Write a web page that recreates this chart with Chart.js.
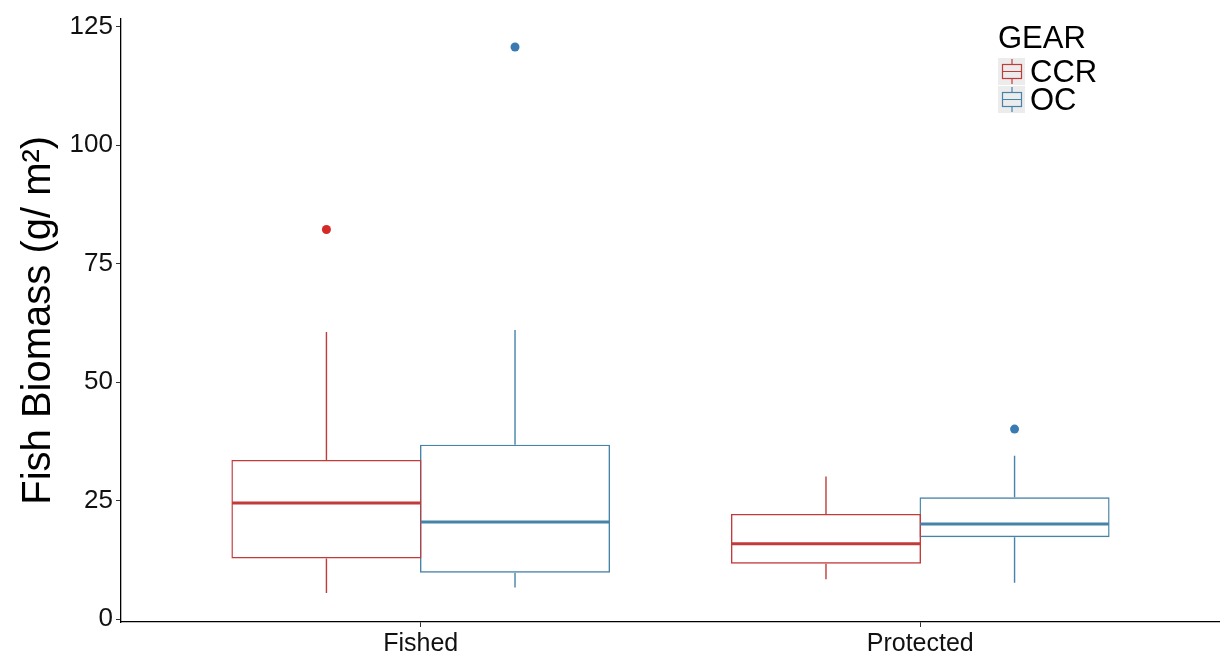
<!DOCTYPE html>
<html>
<head>
<meta charset="utf-8">
<script src="https://cdn.jsdelivr.net/npm/chart.js@4.4.1/dist/chart.umd.min.js"></script>
<style>
  html, body { margin: 0; background: #fff; }
  #wrap { width: 1220px; height: 658px; }
</style>
</head>
<body>
<div id="wrap"><canvas id="grafico"></canvas></div>
<script>
// categorias e posições no eixo x
const categorias = ['Fished', 'Protected'];
const posicoes = [1, 2];
const ticksY = [0, 25, 50, 75, 100, 125];

// CCR
const ccrMin = [5.5, 8.4];
const ccrQ1 = [12.8, 11.7];
const ccrMediana = [24.5, 15.9];
const ccrQ3 = [33.6, 22.2];
const ccrMax = [60.6, 30.1];
const ccrOutliers = [[82.2], []];

// OC
const ocMin = [6.7, 7.7];
const ocQ1 = [9.8, 17.3];
const ocMediana = [20.5, 20.1];
const ocQ3 = [36.8, 25.7];
const ocMax = [61.0, 34.5];
const ocOutliers = [[120.7], [40.1]];

const corCCR = '#c23b3b';
const corOC = '#4583a8';
const fonte = "'Liberation Sans', Arial, sans-serif";

// monta um dataset de caixa (barra flutuante q1..q3)
function caixa(label, cor, q1, q3, min, med, max, outs, ptCor) {
  return {
    label: label,
    data: posicoes.map((x, i) => ({ x: x, y: [q1[i], q3[i]] })),
    backgroundColor: 'rgba(0,0,0,0)',
    borderColor: cor,
    borderWidth: 1.4,
    borderSkipped: false,
    categoryPercentage: 0.755,
    barPercentage: 1.008, // caixas vizinhas dividem a borda
    extra: { min: min, med: med, max: max, outs: outs, ptCor: ptCor }
  };
}

// whiskers, medianas e outliers
const boxPlugin = {
  id: 'boxExtras',
  afterDatasetsDraw(chart) {
    const ctx = chart.ctx;
    const yS = chart.scales.y;
    chart.data.datasets.forEach((ds, d) => {
      const meta = chart.getDatasetMeta(d);
      const e = ds.extra;
      meta.data.forEach((bar, i) => {
        const p = bar.getProps(['x', 'width'], true);
        const x = p.x, w = p.width;
        ctx.save();
        ctx.strokeStyle = ds.borderColor;
        ctx.lineWidth = 1.4;
        ctx.beginPath();
        ctx.moveTo(x, yS.getPixelForValue(ds.data[i].y[1]));
        ctx.lineTo(x, yS.getPixelForValue(e.max[i]));
        ctx.moveTo(x, yS.getPixelForValue(ds.data[i].y[0]));
        ctx.lineTo(x, yS.getPixelForValue(e.min[i]));
        ctx.stroke();
        ctx.lineWidth = 3;
        ctx.beginPath();
        const ym = yS.getPixelForValue(e.med[i]);
        ctx.moveTo(x - w / 2 + 0.7, ym);
        ctx.lineTo(x + w / 2 - 0.7, ym);
        ctx.stroke();
        ctx.fillStyle = e.ptCor;
        e.outs[i].forEach(v => {
          ctx.beginPath();
          ctx.arc(x, yS.getPixelForValue(v), 4.5, 0, Math.PI * 2);
          ctx.fill();
        });
        ctx.restore();
      });
    });
  }
};

// legenda estilo ggplot
const legendaPlugin = {
  id: 'legendaGear',
  afterDraw(chart) {
    const ctx = chart.ctx;
    ctx.save();
    ctx.fillStyle = '#000';
    ctx.font = '31px ' + fonte;
    ctx.textBaseline = 'alphabetic';
    ctx.fillText('GEAR', 998, 48);
    chart.data.datasets.forEach((ds, i) => {
      const top = 58 + i * 28;
      ctx.fillStyle = '#ececec';
      ctx.fillRect(998, top, 27, 27);
      ctx.strokeStyle = ds.borderColor;
      ctx.lineWidth = 1.2;
      ctx.strokeRect(1002.5, top + 6.5, 19, 14);
      ctx.beginPath();
      ctx.moveTo(1002.5, top + 13.5); ctx.lineTo(1021.5, top + 13.5);
      ctx.moveTo(1012, top + 1); ctx.lineTo(1012, top + 6.5);
      ctx.moveTo(1012, top + 20.5); ctx.lineTo(1012, top + 26);
      ctx.stroke();
      ctx.fillStyle = '#000';
      ctx.textBaseline = 'middle';
      ctx.fillText(ds.label, 1030, top + 15);
    });
    ctx.restore();
  }
};

new Chart(document.getElementById('grafico'), {
  type: 'bar',
  data: {
    datasets: [
      caixa('CCR', corCCR, ccrQ1, ccrQ3, ccrMin, ccrMediana, ccrMax, ccrOutliers, '#d42a27'),
      caixa('OC', corOC, ocQ1, ocQ3, ocMin, ocMediana, ocMax, ocOutliers, '#3a7ab3')
    ]
  },
  options: {
    responsive: true,
    maintainAspectRatio: false,
    animation: false,
    layout: { padding: { top: 13, right: 0, left: 0, bottom: 0 } },
    plugins: { legend: { display: false }, tooltip: { enabled: false } },
    scales: {
      x: {
        type: 'linear',
        offset: false,
        min: 0.4,
        max: 2.6,
        afterBuildTicks: s => { s.ticks = posicoes.map(v => ({ value: v })); },
        afterFit: s => { s.height = 36; },
        grid: { offset: false, drawOnChartArea: false, drawTicks: true, tickLength: 5, color: '#333' },
        border: { display: true, color: '#000', width: 1.3 },
        ticks: {
          color: '#111',
          font: { family: fonte, size: 25 },
          padding: 2,
          maxRotation: 0,
          callback: v => categorias[posicoes.indexOf(v)] || ''
        }
      },
      y: {
        min: -0.6,
        max: 126.7,
        afterBuildTicks: s => { s.ticks = ticksY.map(v => ({ value: v })); },
        afterFit: s => { s.width = 121; },
        grid: { drawOnChartArea: false, drawTicks: true, tickLength: 5, color: '#333' },
        border: { display: true, color: '#000', width: 1.3 },
        ticks: { color: '#111', font: { family: fonte, size: 26 }, padding: 3 },
        title: {
          display: true,
          text: 'Fish Biomass (g/ m²)',
          color: '#000',
          font: { family: fonte, size: 40 },
          padding: { top: 15, bottom: 0 }
        }
      }
    }
  },
  plugins: [boxPlugin, legendaPlugin]
});
</script>
</body>
</html>
